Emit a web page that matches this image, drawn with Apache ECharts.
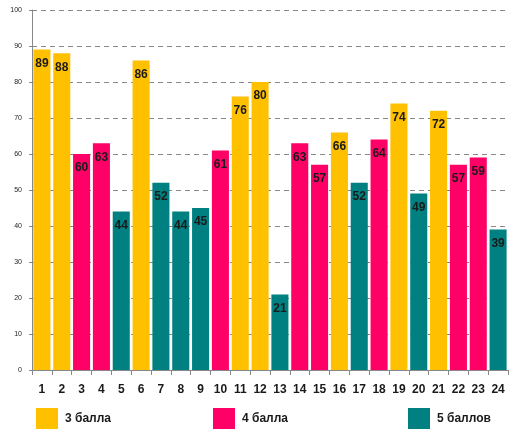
<!DOCTYPE html>
<html><head><meta charset="utf-8">
<script src="https://cdn.jsdelivr.net/npm/echarts@6/dist/echarts.min.js"></script>
<style>html,body{margin:0;padding:0;background:#fff}#c{width:519px;height:437px}</style>
</head><body><div id="c"></div>
<script>
var categories = ['1','2','3','4','5','6','7','8','9','10','11','12','13','14','15','16','17','18','19','20','21','22','23','24'];
var values = [89,88,60,63,44,86,52,44,45,61,76,80,21,63,57,66,52,64,74,49,72,57,59,39];
var groups = [3,3,4,4,5,3,5,5,5,4,3,3,5,4,4,3,5,4,3,5,3,4,4,5];
var seriesNames = ['3 балла','4 балла','5 баллов'];
var groupKeys = [3,4,5];
var yTicks = [0,10,20,30,40,50,60,70,80,90,100];

var colors = ['#FFC000','#FF0066','#008080'];
var legendLeft = [36, 213, 408];
var font = 'Liberation Sans, Arial, sans-serif';

var series = groupKeys.map(function(g, i){
  return {
    name: seriesNames[i], type: 'bar', barGap: '-100%', barCategoryGap: '14%',
    itemStyle: {color: colors[i]},
    label: {show: true, position: 'insideTop', distance: 8, color: '#1a1a1a',
      fontWeight: 'bold', fontSize: 12, fontFamily: font},
    data: values.map(function(v, k){ return groups[k] === g ? v : '-'; })
  };
});

var legends = seriesNames.map(function(n, i){
  return {data: [n], left: legendLeft[i], top: 408, padding: 0, itemWidth: 22, itemHeight: 21,
    itemGap: 8, icon: 'rect', selectedMode: false,
    textStyle: {fontSize: 12, fontWeight: 'bold', color: '#1a1a1a', fontFamily: font, padding:[0,0,0,2]}};
});

var chart = echarts.init(document.getElementById('c'), null, {renderer: 'canvas'});
chart.setOption({
  animation: false,
  grid: {left: 32, right: 11, top: 10, bottom: 67},
  legend: legends,
  xAxis: {type: 'category', data: categories,
    axisLine: {lineStyle: {color: '#888'}},
    axisTick: {show: true, length: 5, lineStyle: {color: '#888'}},
    axisLabel: {fontSize: 12, fontWeight: 'bold', color: '#1a1a1a', margin: 14, fontFamily: font}},
  yAxis: {type: 'value', min: yTicks[0], max: yTicks[yTicks.length-1], interval: 10,
    axisLine: {show: true, lineStyle: {color: '#888'}},
    axisTick: {show: true, length: 3, lineStyle: {color: '#888'}},
    axisLabel: {fontSize: 7, color: '#222', margin: 10, fontFamily: font},
    splitLine: {show: true, lineStyle: {color: '#888', type: [5,4], width: 1}}},
  series: series
});
</script></body></html>
